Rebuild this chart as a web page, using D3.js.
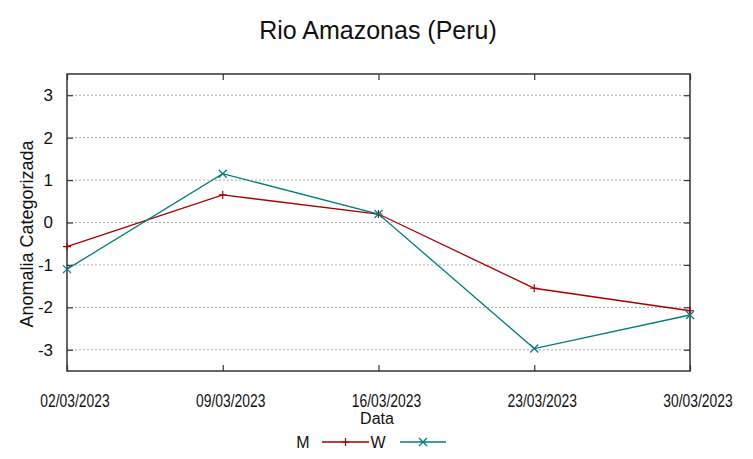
<!DOCTYPE html>
<html>
<head>
<meta charset="utf-8">
<script src="https://cdn.jsdelivr.net/npm/d3@7"></script>
<style>
  body { margin: 0; background: #fff; }
  text { font-family: "Liberation Sans", Arial, sans-serif; fill: #111; }
</style>
</head>
<body>
<div id="chart"></div>
<script>
// data
var dates = ['02/03/2023', '09/03/2023', '16/03/2023', '23/03/2023', '30/03/2023'];
var seriesM = [-0.57, 0.65, 0.2, -1.55, -2.08];
var seriesW = [-1.1, 1.15, 0.2, -2.97, -2.18];
var yTicks = [-3, -2, -1, 0, 1, 2, 3];

var W = 753, H = 459;
var margin = {left: 67, right: 63, top: 74, bottom: 88};

var svg = d3.select('#chart')
    .append('svg')
    .attr('width', W)
    .attr('height', H);

var x = d3.scalePoint()
    .domain(dates)
    .range([margin.left, W - margin.right]);

var y = d3.scaleLinear()
    .domain([-3.5, 3.5])
    .range([H - margin.bottom, margin.top]);

// grid
svg.append('g')
    .selectAll('line')
    .data(yTicks)
    .enter().append('line')
    .attr('x1', margin.left)
    .attr('x2', W - margin.right)
    .attr('y1', function(d){ return y(d); })
    .attr('y2', function(d){ return y(d); })
    .attr('stroke', '#aaa')
    .attr('stroke-width', 1)
    .attr('stroke-dasharray', '2,2');

// axes (inward ticks, mirrored)
var axLeft = svg.append('g')
    .attr('transform', 'translate(' + margin.left + ',0)')
    .call(d3.axisLeft(y).tickValues(yTicks).tickSize(-6).tickPadding(14).tickFormat(function(d){ return String(d); }));
var axRight = svg.append('g')
    .attr('transform', 'translate(' + (W - margin.right) + ',0)')
    .call(d3.axisRight(y).tickValues(yTicks).tickSize(-6).tickFormat(''));
var axBottom = svg.append('g')
    .attr('transform', 'translate(0,' + (H - margin.bottom) + ')')
    .call(d3.axisBottom(x).tickSize(-6).tickPadding(23));
var axTop = svg.append('g')
    .attr('transform', 'translate(0,' + margin.top + ')')
    .call(d3.axisTop(x).tickSize(-6).tickFormat(''));

[axLeft, axRight, axBottom, axTop].forEach(function(g){
    g.select('.domain').remove();
    g.selectAll('.tick line').attr('stroke', '#333').attr('stroke-width', 1.2);
});
axLeft.selectAll('text').style('font-size', '17px').style('font-family', '"Liberation Sans", Arial, sans-serif').attr('fill', '#111');
// date labels: narrow, tall and nudged right like the original
axBottom.selectAll('text')
    .style('font-size', '18px')
    .style('font-family', '"Liberation Sans", Arial, sans-serif')
    .attr('fill', '#111')
    .attr('transform', 'translate(7.5,0) scale(0.77,1)');

// frame
svg.append('rect')
    .attr('x', margin.left)
    .attr('y', margin.top)
    .attr('width', W - margin.left - margin.right)
    .attr('height', H - margin.top - margin.bottom)
    .attr('fill', 'none')
    .attr('stroke', '#333')
    .attr('stroke-width', 1.5);

var line = d3.line()
    .x(function(d, i){ return x(dates[i]); })
    .y(function(d){ return y(d); });

var series = [
    {name: 'M', values: seriesM, color: '#a40000', mark: 'plus'},
    {name: 'W', values: seriesW, color: '#007c7c', mark: 'cross'}
];

function marker(g, cx, cy, type, color) {
    var s = 4;
    var p = type === 'plus'
        ? 'M' + (cx - s) + ',' + cy + 'H' + (cx + s) + 'M' + cx + ',' + (cy - s) + 'V' + (cy + s)
        : 'M' + (cx - s) + ',' + (cy - s) + 'L' + (cx + s) + ',' + (cy + s) + 'M' + (cx - s) + ',' + (cy + s) + 'L' + (cx + s) + ',' + (cy - s);
    g.append('path').attr('d', p).attr('stroke', color).attr('stroke-width', 1.2).attr('fill', 'none');
}

series.forEach(function(s){
    svg.append('path')
        .datum(s.values)
        .attr('d', line)
        .attr('fill', 'none')
        .attr('stroke', s.color)
        .attr('stroke-width', 1.3);
    var g = svg.append('g');
    s.values.forEach(function(v, i){ marker(g, x(dates[i]), y(v), s.mark, s.color); });
});

// title & labels
svg.append('text')
    .attr('x', 378).attr('y', 39)
    .attr('text-anchor', 'middle')
    .style('font-size', '25px')
    .text('Rio Amazonas (Peru)');

svg.append('text')
    .attr('x', 377).attr('y', 424)
    .attr('text-anchor', 'middle')
    .style('font-size', '16px')
    .text('Data');

svg.append('text')
    .attr('transform', 'translate(33,' + 234 + ') rotate(-90)')
    .attr('text-anchor', 'middle')
    .style('font-size', '18px')
    .text('Anomalia Categorizada');

// legend
var legend = [
    {tx: 303, x1: 322, x2: 369, color: '#a40000', mark: 'plus'},
    {tx: 378, x1: 400, x2: 446, color: '#007c7c', mark: 'cross'}
];
legend.forEach(function(l, i){
    svg.append('text')
        .attr('x', l.tx).attr('y', 448)
        .attr('text-anchor', 'middle')
        .style('font-size', '16px')
        .text(series[i].name);
    svg.append('line')
        .attr('x1', l.x1).attr('x2', l.x2)
        .attr('y1', 442).attr('y2', 442)
        .attr('stroke', l.color).attr('stroke-width', 1.3);
    marker(svg, (l.x1 + l.x2) / 2, 442, l.mark, l.color);
});
</script>
</body>
</html>
